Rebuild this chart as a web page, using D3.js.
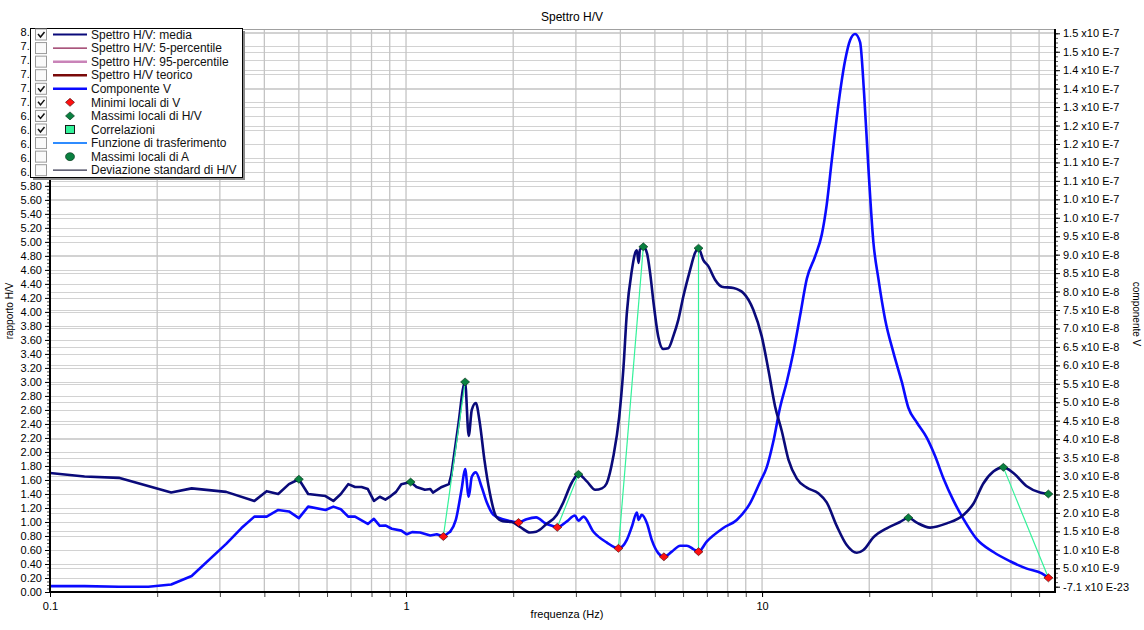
<!DOCTYPE html>
<html>
<head>
<meta charset="utf-8">
<script src="https://cdn.jsdelivr.net/npm/d3@7"></script>
<style>
  body { margin: 0; background: #fff; }
  svg { display: block; font-family: "Liberation Sans", Arial, sans-serif; }
</style>
</head>
<body>
<svg id="chart" width="1144" height="630"></svg>
<script>
// ---- H/V spectrum (mean) ----
const hvFreq = [0.1, 0.125, 0.156, 0.219, 0.25, 0.3125, 0.375, 0.406, 0.4375, 0.469, 0.5, 0.531, 0.594, 0.625, 0.656, 0.688,
  0.719, 0.75, 0.781, 0.8125, 0.844, 0.875, 0.906, 0.9375, 0.97, 1.03, 1.07, 1.13, 1.17, 1.19, 1.26, 1.32, 1.34, 1.40,
  1.465, 1.50, 1.53, 1.57, 1.61, 1.66, 1.72, 1.79, 1.87, 1.98, 2.09, 2.23, 2.32, 2.48, 2.65, 2.76, 2.92, 3.05, 3.22,
  3.40, 3.55, 3.66, 3.82, 3.97, 4.08, 4.17, 4.31, 4.40, 4.45, 4.50, 4.54, 4.64, 4.75, 4.85, 4.96, 5.11, 5.28, 5.45,
  5.63, 5.82, 6.01, 6.28, 6.48, 6.63, 6.84, 7.07, 7.38, 7.71, 8.31, 8.86, 9.45, 9.98, 10.42, 10.88, 11.36, 11.86,
  12.52, 13.36, 14.39, 15.19, 16.22, 17.29, 18.45, 19.26, 20.54, 22.4, 24.41, 25.76, 27.21, 29.64, 33.03, 36.77,
  39.23, 41.83, 44.64, 47.62, 50.81, 55.4, 60.38, 63.72];
const hvMedia = [1.70, 1.65, 1.63, 1.42, 1.48, 1.43, 1.30, 1.44, 1.40, 1.54, 1.61, 1.40, 1.37, 1.30, 1.40, 1.54,
  1.50, 1.50, 1.47, 1.30, 1.36, 1.32, 1.37, 1.43, 1.54, 1.57, 1.50, 1.46, 1.47, 1.42, 1.50, 1.54, 1.67, 2.36,
  3.00, 2.23, 2.60, 2.70, 2.43, 1.89, 1.41, 1.08, 1.01, 1.00, 0.93, 0.85, 0.86, 0.97, 1.10, 1.27, 1.56, 1.68, 1.58,
  1.46, 1.48, 1.55, 1.93, 2.50, 3.20, 3.98, 4.60, 4.84, 4.88, 4.70, 4.89, 4.93, 4.84, 4.55, 4.12, 3.65, 3.47, 3.48,
  3.65, 3.89, 4.22, 4.60, 4.84, 4.91, 4.74, 4.65, 4.46, 4.36, 4.34, 4.27, 4.03, 3.65, 3.17, 2.65, 2.30, 1.89,
  1.62, 1.49, 1.41, 1.28, 0.94, 0.67, 0.56, 0.60, 0.78, 0.91, 1.00, 1.06, 0.99, 0.92, 0.98, 1.10,
  1.26, 1.55, 1.72, 1.78, 1.70, 1.51, 1.42, 1.40];

// ---- Vertical component (units of 1e-9) ----
const vFreq = [0.1, 0.125, 0.156, 0.189, 0.219, 0.25, 0.3125, 0.345, 0.375, 0.406, 0.4375, 0.469, 0.5, 0.531, 0.594,
  0.625, 0.656, 0.688, 0.719, 0.781, 0.8125, 0.844, 0.875, 0.912, 0.97, 1.005, 1.04, 1.095, 1.17, 1.22, 1.273, 1.33,
  1.38, 1.434, 1.465, 1.50, 1.53, 1.57, 1.63, 1.69, 1.76, 1.87, 1.98, 2.07, 2.18, 2.32, 2.46, 2.57, 2.66, 2.83, 2.98,
  3.05, 3.15, 3.36, 3.66, 3.95, 4.17, 4.31, 4.45, 4.50, 4.59, 4.75, 4.90, 5.11, 5.30, 5.58, 5.89, 6.15, 6.41, 6.63,
  6.99, 7.78, 8.49, 9.25, 9.87, 10.31, 10.76, 11.23, 11.73, 12.24, 12.79, 13.36, 14.09, 14.72, 15.19, 15.70, 16.38,
  17.11, 17.67, 18.25, 18.85, 19.35, 19.89, 20.54, 21.22, 22.16, 23.38, 24.69, 25.76, 27.21, 29.01, 30.62, 32.31,
  34.46, 36.77, 40.1, 44.64, 49.73, 55.4, 61.06, 63.72];
const vComp = [0.15, 0.15, 0.0, 0.0, 0.6, 2.9, 11.6, 15.9, 19.0, 19.0, 20.8, 20.4, 18.6, 21.7, 20.8,
  21.7, 21.0, 19.0, 19.0, 17.0, 18.4, 16.5, 16.6, 15.7, 15.2, 14.2, 14.8, 14.7, 13.9, 14.2, 13.6, 14.9,
  18.1, 26.7, 31.9, 24.4, 29.8, 31.0, 27.1, 22.6, 19.5, 18.3, 17.7, 17.4, 18.3, 18.8, 17.2, 16.5, 16.1, 17.7, 19.3,
  17.9, 19.0, 14.9, 12.0, 10.4, 12.7, 16.3, 20.1, 18.1, 19.5, 17.2, 12.7, 9.1, 8.1, 9.5, 11.1, 11.1, 10.2, 9.5,
  12.2, 15.9, 18.1, 22.6, 28.4, 32.4, 39.4, 48.5, 55.5, 63.5, 73.5, 83.5, 89.5, 95.5, 103.5, 115.6, 130.6,
  142.6, 148.1, 149.8, 147.6, 133.6, 113.6, 93.5, 83.5, 72.5, 63.5, 55.5, 48.5, 44.5, 40.4, 35.4, 29.4,
  23.4, 18.4, 12.9, 9.4, 6.9, 4.9, 3.6, 2.4];

// ---- local maxima of H/V ----
const hvMaxFreq  = [0.5, 1.03, 1.465, 3.05, 4.64, 6.63, 25.76, 47.62, 63.72];
const hvMaxValue = [1.61, 1.57, 3.00, 1.68, 4.93, 4.91, 1.06, 1.78, 1.40];
// ---- local minima of V (units of 1e-9) ----
const vMinFreq  = [1.273, 2.07, 2.66, 3.95, 5.30, 6.63, 63.72];
const vMinValue = [13.6, 17.4, 16.1, 10.4, 8.1, 9.5, 2.4];
// ---- correlations: V minimum index -> H/V maximum index ----
const corrFromMin = [0, 2, 3, 5, 6];
const corrToMax   = [2, 3, 4, 5, 7];

// ---- axis ticks ----
const leftTicks = d3.range(0, 41).map(i => +(i * 0.2).toFixed(2));
const leftMinor = d3.range(0, 161).map(i => i * 0.05);
const rightTicks = d3.range(0, 31).map(i => i * 5);
const rightMinor = d3.range(0, 121).map(i => i * 1.25);
const rightTickLabels = ["-7.1 x10 E-23", "5.0 x10 E-9", "1.0 x10 E-8", "1.5 x10 E-8", "2.0 x10 E-8", "2.5 x10 E-8",
  "3.0 x10 E-8", "3.5 x10 E-8", "4.0 x10 E-8", "4.5 x10 E-8", "5.0 x10 E-8", "5.5 x10 E-8", "6.0 x10 E-8",
  "6.5 x10 E-8", "7.0 x10 E-8", "7.5 x10 E-8", "8.0 x10 E-8", "8.5 x10 E-8", "9.0 x10 E-8", "9.5 x10 E-8",
  "1.0 x10 E-7", "1.0 x10 E-7", "1.1 x10 E-7", "1.1 x10 E-7", "1.2 x10 E-7", "1.2 x10 E-7", "1.3 x10 E-7",
  "1.4 x10 E-7", "1.4 x10 E-7", "1.5 x10 E-7", "1.5 x10 E-7"];
const xLabelValues = [0.1, 1, 10];
const xTickLabels = ["0.1", "1", "10"];

// ---- legend ----
const legendLabels = ["Spettro H/V: media", "Spettro H/V: 5-percentile", "Spettro H/V: 95-percentile",
  "Spettro H/V teorico", "Componente V", "Minimi locali di V", "Massimi locali di H/V", "Correlazioni",
  "Funzione di trasferimento", "Massimi locali di A", "Deviazione standard di H/V"];
const legendChecked = [true, false, false, false, true, true, true, true, false, false, false];
const legendKind = ["line", "line", "line", "line", "line", "diamondRed", "diamondGreen", "square", "line", "circle", "line"];

// ---- styles ----
const C = {
  hv: "#0a0a7a", v: "#0a0aff", corr: "#33f29a", red: "#ff1010", green: "#0a8040",
  grid: "#d2d2d2", vgrid: "#c4c4c4"
};
const legendLine = [
  { color: C.hv, w: 2 }, { color: "#8c1c50", w: 1.2 }, { color: "#c983b8", w: 2.5 }, { color: "#7a0a0a", w: 2.5 },
  { color: C.v, w: 2.5 }, null, null, null, { color: "#2f8cff", w: 2 }, null, { color: "#30304a", w: 1.2 }
];

const svg = d3.select("#chart");
const P = { left: 50, right: 1055, top: 29, bottom: 592 };
const FONT = 11;
const LEGEND_FONT = 12;

const x = d3.scaleLog().domain([0.1, 66.5]).range([P.left, P.right]);
const yL = d3.scaleLinear().domain([0, 8.04]).range([P.bottom, P.top]);
const yR = d3.scaleLinear().domain([0, 150]).range([586.7, 33.3]);

svg.append("rect").attr("width", 1144).attr("height", 630).attr("fill", "#fff");

svg.append("defs").append("clipPath").attr("id", "plotClip")
  .append("rect").attr("x", P.left).attr("y", P.top)
  .attr("width", P.right - P.left).attr("height", P.bottom - P.top);

// grid
const xGrid = [];
[0.1, 1, 10].forEach(d => { for (let k = 1; k < 10; k++) { const v = d * k; if (v <= 66.5 && v > 0.1) xGrid.push(v); } });
const grid = svg.append("g");
grid.selectAll("line.hl").data(leftTicks.slice(1)).join("line")
  .attr("x1", P.left).attr("x2", P.right)
  .attr("y1", d => Math.round(yL(d)) + 0.5).attr("y2", d => Math.round(yL(d)) + 0.5)
  .attr("stroke", C.grid).attr("stroke-width", 1);
grid.selectAll("line.hr").data(rightTicks.slice(1)).join("line")
  .attr("x1", P.left).attr("x2", P.right)
  .attr("y1", d => Math.round(yR(d)) + 0.5).attr("y2", d => Math.round(yR(d)) + 0.5)
  .attr("stroke", C.grid).attr("stroke-width", 1);
grid.selectAll("line.v").data(xGrid).join("line")
  .attr("x1", d => x(d)).attr("x2", d => x(d))
  .attr("y1", P.top).attr("y2", P.bottom)
  .attr("stroke", C.vgrid).attr("stroke-width", 1.3);

// top frame line
svg.append("line").attr("x1", P.left).attr("x2", P.right).attr("y1", P.top + 0.5).attr("y2", P.top + 0.5)
  .attr("stroke", "#a0a0a0").attr("stroke-width", 1);

const plot = svg.append("g").attr("clip-path", "url(#plotClip)");

// the sparse low-frequency samples are joined with straight segments, the denser part is smoothed
function drawSeries(freq, vals, yScale, split, color) {
  const idx = freq.findIndex(f => f >= split);
  const pts = freq.map((f, i) => [x(f), yScale(vals[i])]);
  const lin = d3.line().curve(d3.curveLinear);
  const smooth = d3.line().curve(d3.curveMonotoneX);
  [lin(pts.slice(0, idx + 1)), smooth(pts.slice(idx))].forEach(d => {
    plot.append("path").attr("d", d).attr("fill", "none")
      .attr("stroke", color).attr("stroke-width", 2.6)
      .attr("stroke-linejoin", "round").attr("stroke-linecap", "round");
  });
}
drawSeries(vFreq, vComp, yR, 1.33, C.v);
drawSeries(hvFreq, hvMedia, yL, 1.34, C.hv);

// correlation lines
plot.selectAll("line.corr").data(corrFromMin).join("line")
  .attr("x1", d => x(vMinFreq[d])).attr("y1", d => yR(vMinValue[d]))
  .attr("x2", (d, i) => x(hvMaxFreq[corrToMax[i]])).attr("y2", (d, i) => yL(hvMaxValue[corrToMax[i]]))
  .attr("stroke", C.corr).attr("stroke-width", 1.2);

const diamond = (cx, cy, w, h) => `M${cx},${cy - h}L${cx + w},${cy}L${cx},${cy + h}L${cx - w},${cy}Z`;

svg.selectAll("path.vmin").data(vMinFreq).join("path")
  .attr("d", (d, i) => diamond(x(d), yR(vMinValue[i]), 4.5, 4))
  .attr("fill", C.red).attr("stroke", "#3a0000").attr("stroke-width", 0.6);
svg.selectAll("path.hvmax").data(hvMaxFreq).join("path")
  .attr("d", (d, i) => diamond(x(d), yL(hvMaxValue[i]), 4.5, 4))
  .attr("fill", C.green).attr("stroke", "#002a10").attr("stroke-width", 0.6);

// ---- axes ----
function styleAxis(g) {
  g.select(".domain").remove();
  g.selectAll("line").attr("stroke", "#000");
  g.selectAll("text").attr("fill", "#000").attr("font-size", FONT).attr("font-family", "Liberation Sans, Arial, sans-serif");
}

svg.append("g").attr("transform", `translate(${P.left},0)`)
  .call(d3.axisLeft(yL).tickValues(leftMinor).tickSize(3).tickFormat(""))
  .call(styleAxis).selectAll("line").attr("stroke", "#555");
svg.append("g").attr("transform", `translate(${P.left},0)`)
  .call(d3.axisLeft(yL).tickValues(leftTicks).tickSize(5).tickPadding(3).tickFormat(d3.format(".2f")))
  .call(styleAxis);

svg.append("g").attr("transform", `translate(${P.right},0)`)
  .call(d3.axisRight(yR).tickValues(rightMinor).tickSize(3).tickFormat(""))
  .call(styleAxis).selectAll("line").attr("stroke", "#555");
svg.append("g").attr("transform", `translate(${P.right},0)`)
  .call(d3.axisRight(yR).tickValues(rightTicks).tickSize(5).tickPadding(3).tickFormat((d, i) => rightTickLabels[i]))
  .call(styleAxis);

svg.append("g").attr("transform", `translate(0,${P.bottom})`)
  .call(d3.axisBottom(x).tickValues(xGrid.concat([0.1])).tickSize(5).tickFormat(""))
  .call(styleAxis).selectAll("line").attr("stroke", "#444");
svg.append("g").attr("transform", `translate(0,${P.bottom})`)
  .call(d3.axisBottom(x).tickValues(xLabelValues).tickSize(5).tickPadding(5)
    .tickFormat(d => xTickLabels[xLabelValues.indexOf(d)]))
  .call(styleAxis);

// axis lines
svg.append("line").attr("x1", P.left).attr("x2", P.left).attr("y1", P.top).attr("y2", P.bottom + 1)
  .attr("stroke", "#000").attr("stroke-width", 2);
svg.append("line").attr("x1", P.right).attr("x2", P.right).attr("y1", P.top).attr("y2", P.bottom + 1)
  .attr("stroke", "#000").attr("stroke-width", 2);
svg.append("line").attr("x1", P.left - 1).attr("x2", P.right + 1).attr("y1", P.bottom).attr("y2", P.bottom)
  .attr("stroke", "#000").attr("stroke-width", 2);

// titles
svg.append("text").attr("x", 572).attr("y", 21).attr("text-anchor", "middle")
  .attr("font-size", 12).attr("fill", "#000").text("Spettro H/V");
svg.append("text").attr("x", 567).attr("y", 618).attr("text-anchor", "middle")
  .attr("font-size", FONT).attr("fill", "#000").text("frequenza (Hz)");
svg.append("text").attr("transform", "translate(13,311) rotate(-90)").attr("text-anchor", "middle")
  .attr("font-size", 10).attr("fill", "#000").text("rapporto H/V");
svg.append("text").attr("transform", "translate(1133,314) rotate(90)").attr("text-anchor", "middle")
  .attr("font-size", 10).attr("fill", "#000").text("componente V");

// ---- legend ----
const L = { x: 30, y: 28, w: 212, h: 149, row: 13.57, first: 34.5 };
const lg = svg.append("g");
lg.append("rect").attr("x", L.x + 3).attr("y", L.y + 3).attr("width", L.w).attr("height", L.h).attr("fill", "#8a8a8a");
lg.append("rect").attr("x", L.x + 0.5).attr("y", L.y + 0.5).attr("width", L.w).attr("height", L.h)
  .attr("fill", "#fff").attr("stroke", "#000").attr("stroke-width", 1);

legendLabels.forEach((label, i) => {
  const cy = L.first + i * L.row;
  const g = lg.append("g");
  g.append("rect").attr("x", 35.5).attr("y", cy - 5.5).attr("width", 11).attr("height", 11)
    .attr("fill", "#fafafa").attr("stroke", "#9a9a9a").attr("stroke-width", 1);
  if (legendChecked[i]) {
    g.append("path").attr("d", `M38,${cy - 0.5}L40.5,${cy + 2.5}L44.5,${cy - 2.5}`)
      .attr("fill", "none").attr("stroke", "#111").attr("stroke-width", 1.5);
  }
  const k = legendKind[i];
  if (k === "line") {
    const s = legendLine[i];
    g.append("line").attr("x1", 53).attr("x2", 87).attr("y1", cy).attr("y2", cy)
      .attr("stroke", s.color).attr("stroke-width", s.w);
  } else if (k === "diamondRed") {
    g.append("path").attr("d", diamond(70, cy, 4.5, 4)).attr("fill", C.red).attr("stroke", "#3a0000").attr("stroke-width", 0.6);
  } else if (k === "diamondGreen") {
    g.append("path").attr("d", diamond(70, cy, 4.5, 4)).attr("fill", C.green).attr("stroke", "#002a10").attr("stroke-width", 0.6);
  } else if (k === "square") {
    g.append("rect").attr("x", 65.5).attr("y", cy - 4).attr("width", 9).attr("height", 8)
      .attr("fill", "#33f29a").attr("stroke", "#1a1a1a").attr("stroke-width", 1);
  } else if (k === "circle") {
    g.append("ellipse").attr("cx", 70).attr("cy", cy).attr("rx", 4.5).attr("ry", 4)
      .attr("fill", C.green).attr("stroke", "#002a10").attr("stroke-width", 0.6);
  }
  g.append("text").attr("x", 91).attr("y", cy).attr("dy", "0.35em")
    .attr("font-size", LEGEND_FONT).attr("fill", "#111").text(label);
});
</script>
</body>
</html>
